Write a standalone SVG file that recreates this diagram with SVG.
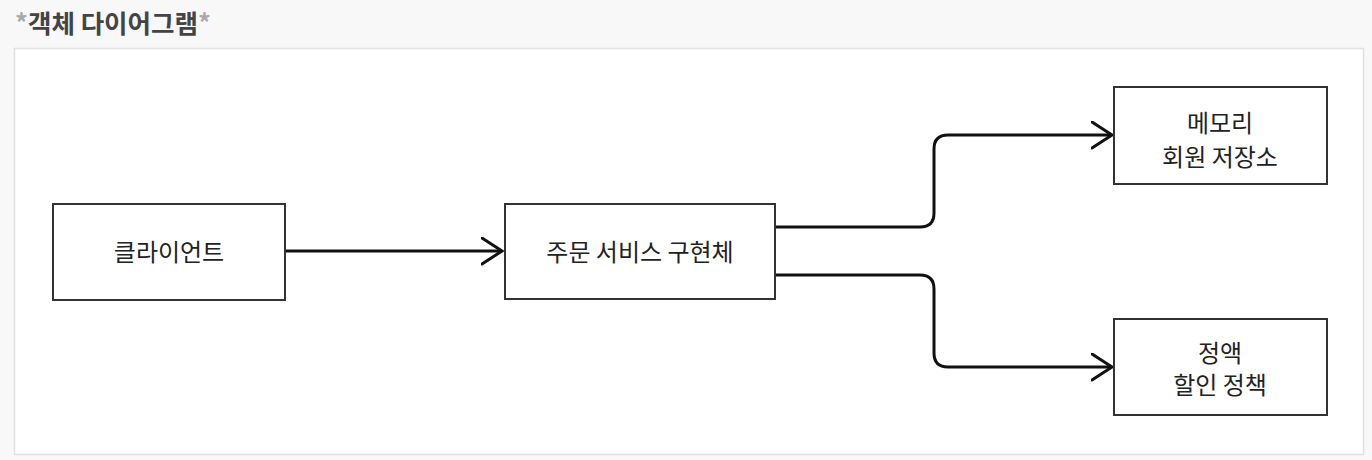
<svg xmlns="http://www.w3.org/2000/svg" width="1372" height="460" viewBox="0 0 1372 460">
<style>
.box{fill:#fff;stroke:#333;stroke-width:2}
.lbl{font-family:"Noto Sans CJK KR","Noto Sans",sans-serif;font-size:24px;font-weight:400;fill:#222;text-anchor:middle}
.conn{fill:none;stroke:#111;stroke-width:3;stroke-linejoin:round}
</style>
<defs>
<marker id="open" markerWidth="24" markerHeight="30" refX="21" refY="14" orient="auto" markerUnits="userSpaceOnUse">
<path d="M1,1 L21,14 L1,27" fill="none" stroke="#111" stroke-width="3" stroke-linecap="round"/>
</marker>
</defs>
<rect x="0" y="0" width="1372" height="460" fill="#f8f8f8"/>
<rect x="14.5" y="48.5" width="1349" height="406" fill="#fff" stroke="#e0e0e0" stroke-width="1.5"/>
<text x="15" y="33" font-family="Noto Sans CJK KR,sans-serif" font-size="25.5" font-weight="bold" fill="#444"><tspan fill="#aaa">*</tspan>객체 다이어그램<tspan fill="#aaa">*</tspan></text>
<g id="connectors">
<path class="conn" d="M286,251 H502" marker-end="url(#open)"/>
<path class="conn" d="M776,227 H920 Q934,227 934,213 V149 Q934,135 948,135 H1112" marker-end="url(#open)"/>
<path class="conn" d="M776,275 H920 Q934,275 934,289 V353 Q934,367 948,367 H1112" marker-end="url(#open)"/>
</g>
<g id="client">
<rect class="box" x="53" y="204" width="232" height="96"/>
<text class="lbl" x="169" y="261">클라이언트</text>
</g>
<g id="orderService">
<rect class="box" x="505" y="204" width="270" height="95"/>
<text class="lbl" x="640" y="261">주문 서비스 구현체</text>
</g>
<g id="memoryRepo">
<rect class="box" x="1114" y="87" width="213" height="97"/>
<text class="lbl" x="1220" y="132">메모리</text>
<text class="lbl" x="1220" y="166">회원 저장소</text>
</g>
<g id="fixPolicy">
<rect class="box" x="1114" y="319" width="213" height="96"/>
<text class="lbl" x="1220" y="362">정액</text>
<text class="lbl" x="1220" y="394">할인 정책</text>
</g>
</svg>
